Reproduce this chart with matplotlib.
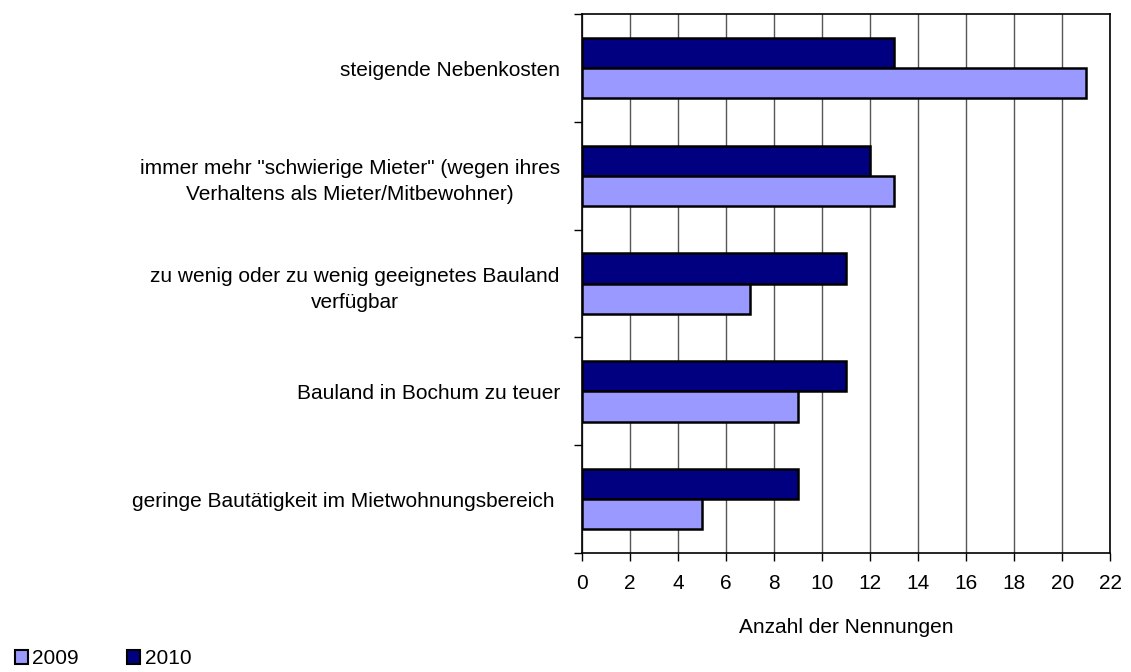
import numpy as np
import matplotlib
matplotlib.use('Agg')
import matplotlib.pyplot as plt
from matplotlib.patches import Patch

plt.rcParams['font.family'] = ['Liberation Sans', 'DejaVu Sans']

# data (top to bottom)
categories = ['steigende Nebenkosten',
              'immer mehr "schwierige Mieter" (wegen ihres\nVerhaltens als Mieter/Mitbewohner)',
              'zu wenig oder zu wenig geeignetes Bauland\nverfügbar',
              'Bauland in Bochum zu teuer',
              'geringe Bautätigkeit im Mietwohnungsbereich ']
vals_2009 = [21, 13, 7, 9, 5]
vals_2010 = [13, 12, 11, 11, 9]
xticks = list(range(0, 23, 2))

c2009, c2010 = '#9999FF', '#000080'
fs = 15

fig = plt.figure(figsize=(11.31, 6.72), dpi=100)
ax = fig.add_axes([0.5146, 0.177, 0.467, 0.802])

y = np.arange(len(categories))
h = 0.28
ax.barh(y - h / 2, vals_2010, height=h, color=c2010, edgecolor='black', linewidth=1.8, zorder=3)
ax.barh(y + h / 2, vals_2009, height=h, color=c2009, edgecolor='black', linewidth=1.8, zorder=3)

ax.set_xlim(0, 22)
ax.set_ylim(len(categories) - 0.5, -0.5)
ax.set_xticks(xticks)
ax.tick_params(axis='x', labelsize=fs, length=6, direction='out', pad=9, width=1)
ax.xaxis.grid(True, color='#555555', linewidth=1, zorder=0)

# category boundaries as ticks, labels at centers without ticks
ax.set_yticks(np.arange(-0.5, len(categories), 1.0), minor=True)
ax.tick_params(axis='y', which='minor', length=6, direction='out', width=1)
ax.set_yticks(y)
ax.set_yticklabels(categories, fontsize=fs, multialignment='center', linespacing=1.5)
ax.tick_params(axis='y', which='major', length=0, pad=16)

for s in ax.spines.values():
    s.set_color('black')
    s.set_linewidth(1.2)

ax.set_xlabel('Anzahl der Nennungen', fontsize=fs, labelpad=18)

handles = [Patch(facecolor=c2009, edgecolor='black', linewidth=1.5),
           Patch(facecolor=c2010, edgecolor='black', linewidth=1.5)]
fig.legend(handles, ['2009', '2010'], loc='lower left', bbox_to_anchor=(0.0, -0.016),
           ncol=2, frameon=False, fontsize=fs, handlelength=0.65, handleheight=0.65,
           handletextpad=0.2, columnspacing=2.3, borderaxespad=0.3)

fig.savefig('out.png', dpi=100)
